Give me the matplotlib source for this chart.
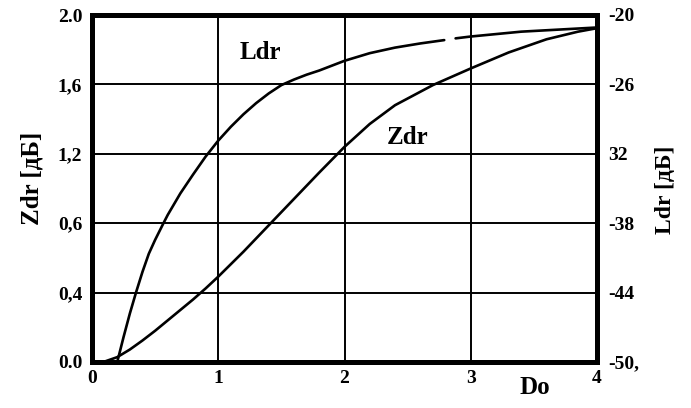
import numpy as np
import matplotlib
matplotlib.use("Agg")
import matplotlib.pyplot as plt

# Left-axis (Zdr) tick levels as printed, equally spaced on the chart
zdr_levels = [0.0, 0.4, 0.6, 1.2, 1.6, 2.0]
zdr_ticklabels = ["0.0", "0,4", "0,6", "1,2", "1,6", "2.0"]
# Right-axis (Ldr) ticks
ldr_ticks = [-50, -44, -38, -32, -26, -20]
ldr_ticklabels = ["-50,", "-44", "-38", "32", "-26", "-20"]
x_ticks = [0, 1, 2, 3, 4]

# Ldr curve (dB) vs Do (nan = small gap in the printed line)
ldr_do = [0.20, 0.25, 0.30, 0.35, 0.40, 0.45, 0.50, 0.566, 0.60, 0.70, 0.80, 0.90, 1.0,
          1.1, 1.2, 1.3, 1.4, 1.5, 1.6, 1.7, 1.8, 1.9, 2.0, 2.2, 2.4, 2.6, 2.79, 2.83,
          2.88, 3.0, 3.4, 3.7, 4.0]
ldr_db = [-50.0, -47.84, -45.8, -43.94, -42.2, -40.64, -39.44, -38.0, -37.28, -35.42,
          -33.8, -32.24, -30.86, -29.66, -28.58, -27.62, -26.78, -26.06, -25.58, -25.16,
          -24.8, -24.38, -23.96, -23.3, -22.82, -22.46, -22.17, np.nan,
          -22.02, -21.86, -21.44, -21.26, -21.08]

# Zdr curve (dB) vs Do
zdr_do = [0.09, 0.2, 0.3, 0.4, 0.5, 0.6, 0.7, 0.8, 0.9, 1.0, 1.1, 1.2, 1.3, 1.4,
          1.6, 1.8, 2.0, 2.2, 2.4, 2.7, 3.0, 3.3, 3.6, 3.85, 4.0]
zdr_db = [0.0, 0.028, 0.072, 0.124, 0.18, 0.24, 0.30, 0.36, 0.412, 0.446, 0.482,
          0.518, 0.556, 0.594, 0.81, 1.038, 1.24, 1.372, 1.48, 1.596, 1.692, 1.784,
          1.86, 1.904, 1.924]

pos = np.arange(len(zdr_levels), dtype=float)


def fwd(v):
    return np.interp(v, zdr_levels, pos)


def inv(p):
    return np.interp(p, pos, zdr_levels)


plt.rcParams['font.family'] = ['Liberation Serif', 'DejaVu Serif']
plt.rcParams['font.weight'] = 'bold'

fig = plt.figure(figsize=(6.91, 4.08), dpi=100)
ax = fig.add_axes([92 / 691, 46 / 408, (597 - 92) / 691, (362 - 15) / 408])
ax.set_yscale('function', functions=(fwd, inv))
ax.set_xlim(0, 4)
ax.set_ylim(0.0, 2.0)
ax.set_xticks(x_ticks)
ax.set_xticklabels([str(t) for t in x_ticks], fontsize=14, fontweight='bold')
ax.set_yticks(zdr_levels)
ax.set_yticklabels(zdr_ticklabels, fontsize=14, fontweight='bold')
ax.tick_params(length=0, pad=7)
ax.tick_params(axis='x', pad=6)
ax.grid(True, color='black', linewidth=1.4)
ax.set_axisbelow(True)
for s in ax.spines.values():
    s.set_linewidth(3.6)

ax.plot(zdr_do, zdr_db, color='black', linewidth=1.9, solid_capstyle='round')

ax2 = ax.twinx()
ax2.set_ylim(-50, -20)
ax2.set_yticks(ldr_ticks)
ax2.set_yticklabels(ldr_ticklabels, fontsize=14, fontweight='bold')
ax2.tick_params(length=0, pad=8)
for s in ax2.spines.values():
    s.set_linewidth(3.6)
ax2.plot(ldr_do, ldr_db, color='black', linewidth=1.9, solid_capstyle='round')

ax.set_ylabel("Zdr [дБ]", fontsize=18, fontweight='bold')
ax.yaxis.set_label_coords(-0.097, 0.53)
ax2.set_ylabel("Ldr [дБ]", fontsize=17, fontweight='bold', rotation=90)
ax2.yaxis.set_label_coords(1.115, 0.496)

fig.text(535 / 691, 1 - 388 / 408, "Do", fontsize=18, fontweight='bold', ha='center', va='center')
ax.text(0.333, 0.893, "Ldr", fontsize=18, fontweight='bold', ha='center', va='center',
        transform=ax.transAxes)
ax.text(0.624, 0.648, "Zdr", fontsize=18, fontweight='bold', ha='center', va='center',
        transform=ax.transAxes)

fig.savefig("out.png", dpi=100)
